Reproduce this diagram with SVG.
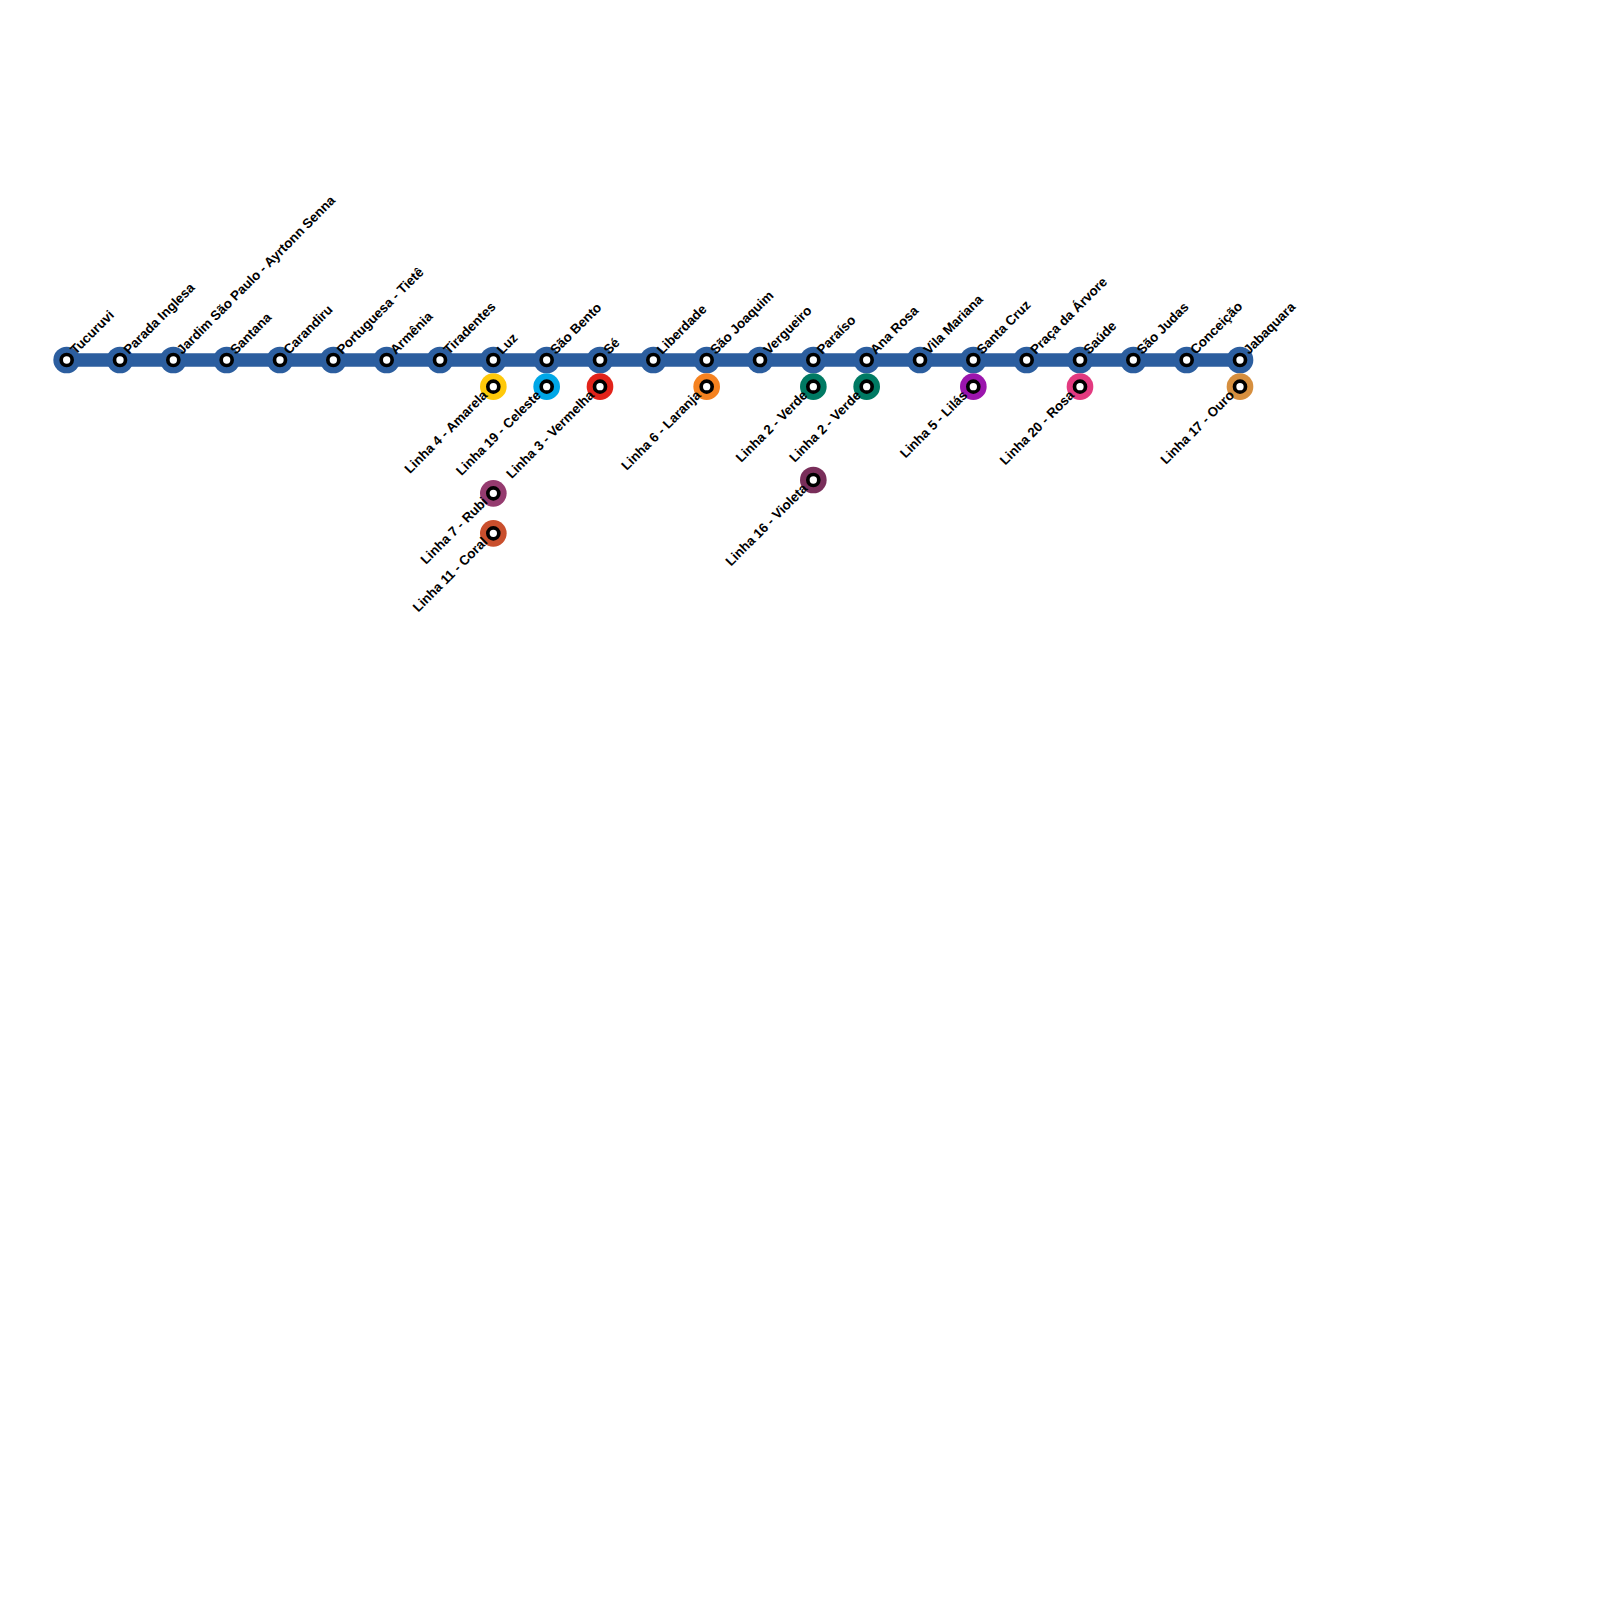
<svg xmlns="http://www.w3.org/2000/svg" width="1600" height="1600" viewBox="0 0 1600 1600">
<style>
.t{font-family:"Liberation Sans",Arial,sans-serif;font-size:13.33px;font-weight:bold;fill:#000}
.e{text-anchor:end}
.o{stroke:none}
.k{fill:#fff;stroke:#000;stroke-width:3.67}
.line{stroke:#2c5e9f;stroke-width:13.33;fill:none}
</style>
<defs>
<g id="dot"><circle class="k" r="5.5"/></g>
</defs>
<rect width="1600" height="1600" fill="#fff"/>
<g id="connectors"><path class="line" d="M66.67 360H1240"/></g>
<g id="s01"><circle class="o" cx="66.67" cy="360" r="13.33" fill="#2c5e9f"/><use href="#dot" x="66.67" y="360"/><text class="t" transform="translate(75.67 355) rotate(-45)">Tucuruvi</text></g>
<g id="s02"><circle class="o" cx="120" cy="360" r="13.33" fill="#2c5e9f"/><use href="#dot" x="120" y="360"/><text class="t" transform="translate(129 355) rotate(-45)">Parada Inglesa</text></g>
<g id="s03"><circle class="o" cx="173.33" cy="360" r="13.33" fill="#2c5e9f"/><use href="#dot" x="173.33" y="360"/><text class="t" transform="translate(182.33 355) rotate(-45)">Jardim São Paulo - Ayrtonn Senna</text></g>
<g id="s04"><circle class="o" cx="226.67" cy="360" r="13.33" fill="#2c5e9f"/><use href="#dot" x="226.67" y="360"/><text class="t" transform="translate(235.67 355) rotate(-45)">Santana</text></g>
<g id="s05"><circle class="o" cx="280" cy="360" r="13.33" fill="#2c5e9f"/><use href="#dot" x="280" y="360"/><text class="t" transform="translate(289 355) rotate(-45)">Carandiru</text></g>
<g id="s06"><circle class="o" cx="333.33" cy="360" r="13.33" fill="#2c5e9f"/><use href="#dot" x="333.33" y="360"/><text class="t" transform="translate(342.33 355) rotate(-45)">Portuguesa - Tietê</text></g>
<g id="s07"><circle class="o" cx="386.67" cy="360" r="13.33" fill="#2c5e9f"/><use href="#dot" x="386.67" y="360"/><text class="t" transform="translate(395.67 355) rotate(-45)">Armênia</text></g>
<g id="s08"><circle class="o" cx="440" cy="360" r="13.33" fill="#2c5e9f"/><use href="#dot" x="440" y="360"/><text class="t" transform="translate(449 355) rotate(-45)">Tiradentes</text></g>
<g id="s09"><circle class="o" cx="493.33" cy="360" r="13.33" fill="#2c5e9f"/><use href="#dot" x="493.33" y="360"/><text class="t" transform="translate(502.33 355) rotate(-45)">Luz</text></g>
<g id="s10"><circle class="o" cx="546.67" cy="360" r="13.33" fill="#2c5e9f"/><use href="#dot" x="546.67" y="360"/><text class="t" transform="translate(555.67 355) rotate(-45)">São Bento</text></g>
<g id="s11"><circle class="o" cx="600" cy="360" r="13.33" fill="#2c5e9f"/><use href="#dot" x="600" y="360"/><text class="t" transform="translate(609 355) rotate(-45)">Sé</text></g>
<g id="s12"><circle class="o" cx="653.33" cy="360" r="13.33" fill="#2c5e9f"/><use href="#dot" x="653.33" y="360"/><text class="t" transform="translate(662.33 355) rotate(-45)">Liberdade</text></g>
<g id="s13"><circle class="o" cx="706.67" cy="360" r="13.33" fill="#2c5e9f"/><use href="#dot" x="706.67" y="360"/><text class="t" transform="translate(715.67 355) rotate(-45)">São Joaquim</text></g>
<g id="s14"><circle class="o" cx="760" cy="360" r="13.33" fill="#2c5e9f"/><use href="#dot" x="760" y="360"/><text class="t" transform="translate(769 355) rotate(-45)">Vergueiro</text></g>
<g id="s15"><circle class="o" cx="813.33" cy="360" r="13.33" fill="#2c5e9f"/><use href="#dot" x="813.33" y="360"/><text class="t" transform="translate(822.33 355) rotate(-45)">Paraíso</text></g>
<g id="s16"><circle class="o" cx="866.67" cy="360" r="13.33" fill="#2c5e9f"/><use href="#dot" x="866.67" y="360"/><text class="t" transform="translate(875.67 355) rotate(-45)">Ana Rosa</text></g>
<g id="s17"><circle class="o" cx="920" cy="360" r="13.33" fill="#2c5e9f"/><use href="#dot" x="920" y="360"/><text class="t" transform="translate(929 355) rotate(-45)">Vila Mariana</text></g>
<g id="s18"><circle class="o" cx="973.33" cy="360" r="13.33" fill="#2c5e9f"/><use href="#dot" x="973.33" y="360"/><text class="t" transform="translate(982.33 355) rotate(-45)">Santa Cruz</text></g>
<g id="s19"><circle class="o" cx="1026.67" cy="360" r="13.33" fill="#2c5e9f"/><use href="#dot" x="1026.67" y="360"/><text class="t" transform="translate(1035.67 355) rotate(-45)">Praça da Árvore</text></g>
<g id="s20"><circle class="o" cx="1080" cy="360" r="13.33" fill="#2c5e9f"/><use href="#dot" x="1080" y="360"/><text class="t" transform="translate(1089 355) rotate(-45)">Saúde</text></g>
<g id="s21"><circle class="o" cx="1133.33" cy="360" r="13.33" fill="#2c5e9f"/><use href="#dot" x="1133.33" y="360"/><text class="t" transform="translate(1142.33 355) rotate(-45)">São Judas</text></g>
<g id="s22"><circle class="o" cx="1186.67" cy="360" r="13.33" fill="#2c5e9f"/><use href="#dot" x="1186.67" y="360"/><text class="t" transform="translate(1195.67 355) rotate(-45)">Conceição</text></g>
<g id="s23"><circle class="o" cx="1240" cy="360" r="13.33" fill="#2c5e9f"/><use href="#dot" x="1240" y="360"/><text class="t" transform="translate(1249 355) rotate(-45)">Jabaquara</text></g>
<g id="l04"><circle class="o" cx="493.33" cy="386.67" r="13.33" fill="#ffc90a"/><use href="#dot" x="493.33" y="386.67"/><text class="t e" transform="translate(488.33 396) rotate(-45)">Linha 4 - Amarela</text></g>
<g id="l19"><circle class="o" cx="546.67" cy="386.67" r="13.33" fill="#00a7e7"/><use href="#dot" x="546.67" y="386.67"/><text class="t e" transform="translate(541.67 396) rotate(-45)">Linha 19 - Celeste</text></g>
<g id="l03"><circle class="o" cx="600" cy="386.67" r="13.33" fill="#e2231a"/><use href="#dot" x="600" y="386.67"/><text class="t e" transform="translate(595 396) rotate(-45)">Linha 3 - Vermelha</text></g>
<g id="l06"><circle class="o" cx="706.67" cy="386.67" r="13.33" fill="#f58220"/><use href="#dot" x="706.67" y="386.67"/><text class="t e" transform="translate(701.67 396) rotate(-45)">Linha 6 - Laranja</text></g>
<g id="l02a"><circle class="o" cx="813.33" cy="386.67" r="13.33" fill="#007a63"/><use href="#dot" x="813.33" y="386.67"/><text class="t e" transform="translate(808.33 396) rotate(-45)">Linha 2 - Verde</text></g>
<g id="l02b"><circle class="o" cx="866.67" cy="386.67" r="13.33" fill="#007a63"/><use href="#dot" x="866.67" y="386.67"/><text class="t e" transform="translate(861.67 396) rotate(-45)">Linha 2 - Verde</text></g>
<g id="l05"><circle class="o" cx="973.33" cy="386.67" r="13.33" fill="#9b15ad"/><use href="#dot" x="973.33" y="386.67"/><text class="t e" transform="translate(968.33 396) rotate(-45)">Linha 5 - Lilás</text></g>
<g id="l20"><circle class="o" cx="1080" cy="386.67" r="13.33" fill="#e33a80"/><use href="#dot" x="1080" y="386.67"/><text class="t e" transform="translate(1075 396) rotate(-45)">Linha 20 - Rosa</text></g>
<g id="l17"><circle class="o" cx="1240" cy="386.67" r="13.33" fill="#d68f3f"/><use href="#dot" x="1240" y="386.67"/><text class="t e" transform="translate(1235 396) rotate(-45)">Linha 17 - Ouro</text></g>
<g id="l07"><circle class="o" cx="493.33" cy="493.33" r="13.33" fill="#953b6f"/><use href="#dot" x="493.33" y="493.33"/><text class="t e" transform="translate(488.33 502.67) rotate(-45)">Linha 7 - Rubi</text></g>
<g id="l11"><circle class="o" cx="493.33" cy="533.33" r="13.33" fill="#c94f2d"/><use href="#dot" x="493.33" y="533.33"/><text class="t e" transform="translate(488.33 542.67) rotate(-45)">Linha 11 - Coral</text></g>
<g id="l16"><circle class="o" cx="813.33" cy="480" r="13.33" fill="#792e5a"/><use href="#dot" x="813.33" y="480"/><text class="t e" transform="translate(808.33 489.33) rotate(-45)">Linha 16 - Violeta</text></g>
</svg>
